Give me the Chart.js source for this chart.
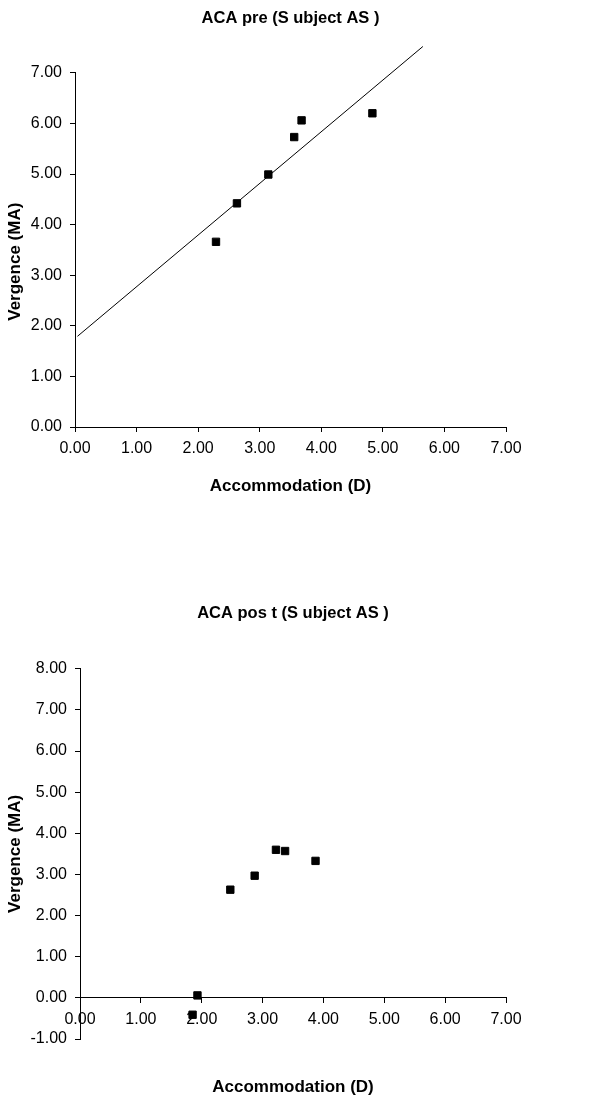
<!DOCTYPE html>
<html>
<head>
<meta charset="utf-8">
<script src="https://cdn.jsdelivr.net/npm/chart.js@4.4.1/dist/chart.umd.min.js"></script>
<style>
  html, body { margin: 0; padding: 0; background: #fff; }
  body { width: 599px; height: 1097px; position: relative; overflow: hidden; }
  .box { position: absolute; left: 0; width: 599px; }
  #preBox { top: 0; height: 520px; }
  #postBox { top: 560px; height: 537px; }
</style>
</head>
<body>
<div class="box" id="preBox"><canvas id="preChart" width="599" height="520"></canvas></div>
<div class="box" id="postBox"><canvas id="postChart" width="599" height="537"></canvas></div>
<script>
// ACA pre: accommodation (D) vs vergence (MA)
const preAccommodation = [2.29, 2.63, 3.14, 3.56, 3.68, 4.83];
const preVergence = [3.66, 4.42, 4.99, 5.73, 6.06, 6.20];
// trend line is drawn over this x range
const preTrendRange = [0.04, 5.65];

// ACA post
const postAccommodation = [1.85, 1.93, 2.47, 2.87, 3.22, 3.37, 3.87];
const postVergence = [-0.41, 0.06, 2.63, 2.97, 3.60, 3.57, 3.33];

const titlePre = 'ACA pre (S ubject AS )';
const titlePost = 'ACA pos t (S ubject AS )';
const xTitle = 'Accommodation (D)';
const yTitle = 'Vergence (MA)';

const tickFont = { family: 'Liberation Sans', size: 16 };
const titleFont = { family: 'Liberation Sans', size: 16.5, weight: 'bold' };
const axisTitleFont = { family: 'Liberation Sans', size: 17, weight: 'bold' };
const fmt = v => v.toFixed(2);

// least squares fit through the pre points
function linearFit(xs, ys) {
  const n = xs.length;
  const mx = xs.reduce((a, b) => a + b, 0) / n;
  const my = ys.reduce((a, b) => a + b, 0) / n;
  let sxy = 0, sxx = 0;
  for (let i = 0; i < n; i++) {
    sxy += (xs[i] - mx) * (ys[i] - my);
    sxx += (xs[i] - mx) * (xs[i] - mx);
  }
  const slope = sxy / sxx;
  return { slope, intercept: my - slope * mx };
}

function toPoints(xs, ys) {
  return xs.map((x, i) => ({ x: x, y: ys[i] }));
}

const fit = linearFit(preAccommodation, preVergence);
const trendPoints = preTrendRange.map(x => ({ x: x, y: fit.intercept + fit.slope * x }));

const markerStyle = {
  pointStyle: 'rect',
  pointRadius: 5.2,
  pointHoverRadius: 5.2,
  pointBackgroundColor: '#000',
  pointBorderColor: '#000',
  pointBorderWidth: 1
};

function axisGrid() {
  return { display: true, drawOnChartArea: false, drawTicks: true, tickLength: 5, color: '#000', lineWidth: 1 };
}

Chart.defaults.color = '#000';
Chart.defaults.animation = false;

new Chart(document.getElementById('preChart'), {
  type: 'scatter',
  data: {
    datasets: [
      Object.assign({ data: toPoints(preAccommodation, preVergence), showLine: false }, markerStyle),
      {
        type: 'line',
        data: trendPoints,
        borderColor: '#000',
        borderWidth: 1,
        pointRadius: 0,
        fill: false,
        clip: false
      }
    ]
  },
  options: {
    responsive: false,
    layout: { padding: { left: 0, right: 93, top: 0, bottom: 19 } },
    plugins: {
      legend: { display: false },
      tooltip: { enabled: false },
      // centred over the plot area, not the whole canvas
      title: { display: true, fullSize: false, text: titlePre, font: titleFont, color: '#000', padding: { top: 9, bottom: 44 } }
    },
    scales: {
      x: {
        type: 'linear', min: 0, max: 7,
        ticks: { stepSize: 1, callback: fmt, font: tickFont, color: '#000', padding: 7, maxRotation: 0 },
        grid: axisGrid(),
        border: { display: true, color: '#000', width: 1 },
        title: { display: true, text: xTitle, font: axisTitleFont, color: '#000', padding: { top: 4, bottom: 4 } },
        afterFit: s => { s.height = 74; }
      },
      y: {
        type: 'linear', min: 0, max: 7,
        ticks: { stepSize: 1, callback: fmt, font: tickFont, color: '#000', padding: 8 },
        grid: axisGrid(),
        border: { display: true, color: '#000', width: 1 },
        // trailing spaces nudge the rotated label a little lower
        title: { display: true, text: yTitle + '     ', font: axisTitleFont, color: '#000', padding: { top: 5, bottom: 4 } },
        afterFit: s => { s.width = 75; }
      }
    }
  }
});

new Chart(document.getElementById('postChart'), {
  type: 'scatter',
  data: {
    datasets: [
      Object.assign({ data: toPoints(postAccommodation, postVergence), showLine: false, clip: false }, markerStyle)
    ]
  },
  options: {
    responsive: false,
    layout: { padding: { left: 0, right: 93, top: 0, bottom: 58 } },
    plugins: {
      legend: { display: false },
      tooltip: { enabled: false },
      title: { display: true, fullSize: false, text: titlePost, font: titleFont, color: '#000', padding: { top: 44, bottom: 45 } }
    },
    scales: {
      x: {
        type: 'linear', min: 0, max: 7,
        position: { y: 0 },
        ticks: { stepSize: 1, callback: fmt, font: tickFont, color: '#000', padding: 7, maxRotation: 0 },
        grid: axisGrid(),
        border: { display: true, color: '#000', width: 1 },
        title: { display: true, text: xTitle, font: axisTitleFont, color: '#000', padding: { top: 4, bottom: 4 } },
        afterFit: s => { s.height = 104; }
      },
      y: {
        type: 'linear', min: -1, max: 8,
        ticks: { stepSize: 1, callback: fmt, font: tickFont, color: '#000', padding: 8 },
        grid: axisGrid(),
        border: { display: true, color: '#000', width: 1 },
        title: { display: true, text: yTitle, font: axisTitleFont, color: '#000', padding: { top: 5, bottom: 4 } },
        afterFit: s => { s.width = 80; }
      }
    }
  }
});
</script>
</body>
</html>
